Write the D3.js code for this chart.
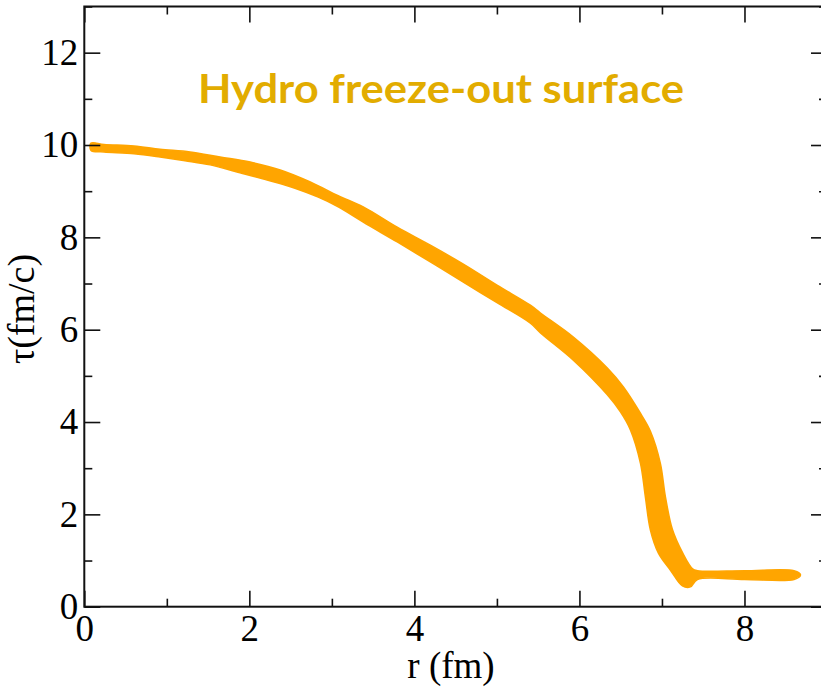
<!DOCTYPE html>
<html>
<head>
<meta charset="utf-8">
<script src="https://cdn.jsdelivr.net/npm/d3@7/dist/d3.min.js"></script>
<style>
  html, body { margin: 0; padding: 0; background: #fff; }
  svg { display: block; }
</style>
</head>
<body>
<svg id="chart" width="821" height="687"></svg>
<script>
// ---- data ----
const xMajorTicks = [0, 2, 4, 6, 8];
const xMinorTicks = [1, 3, 5, 7, 9];
const yMajorTicks = [0, 2, 4, 6, 8, 10, 12];
const yMinorTicks = [1, 3, 5, 7, 9, 11, 13];
const titleText = "Hydro freeze-out surface";
const xTitle = "r (fm)";
const yTitle = "τ(fm/c)";

// freeze-out band: outer (upper/right) edge, going outward in r
const bandOuter = [
  [0.081, 10.04], [0.239, 10.01], [0.603, 9.98], [0.918, 9.91], [1.282, 9.85],
  [1.646, 9.74], [2.010, 9.63], [2.374, 9.46], [2.738, 9.20], [3.077, 8.90],
  [3.380, 8.66], [3.792, 8.22], [4.193, 7.83], [4.593, 7.42], [5.006, 6.96],
  [5.406, 6.53], [5.528, 6.36], [5.926, 5.84], [6.338, 5.17], [6.533, 4.76],
  [6.739, 4.19], [6.860, 3.80], [6.980, 3.11], [7.042, 2.38], [7.127, 1.67],
  [7.249, 1.17], [7.371, 0.82], [7.430, 0.78], [8.000, 0.78], [8.600, 0.78],
  [8.679, 0.69], [8.600, 0.59], [8.000, 0.59], [7.430, 0.59], [7.345, 0.43],
  [7.248, 0.45]
];
// inner (lower/left) edge, going back toward r = 0
const bandInner = [
  [7.103, 0.79], [6.957, 1.16], [6.860, 1.66], [6.799, 2.38], [6.739, 3.11],
  [6.618, 3.83], [6.497, 4.22], [6.338, 4.59], [5.926, 5.34], [5.528, 5.93],
  [5.406, 6.14], [5.006, 6.58], [4.593, 7.03], [4.193, 7.47], [3.792, 7.90],
  [3.380, 8.33], [3.077, 8.66], [2.835, 8.87], [2.544, 9.07], [2.216, 9.24],
  [1.840, 9.42], [1.525, 9.57], [1.221, 9.66], [0.918, 9.74], [0.603, 9.81],
  [0.239, 9.85], [0.081, 9.88]
];

// ---- layout ----
const svg = d3.select("#chart");
const padL = 84.3, padR = 827, padT = 6.5, padB = 606.7;
const x = d3.scaleLinear().domain([0, 9]).range([padL, padR]);
const y = d3.scaleLinear().domain([0, 13]).range([padB, padT]);

svg.append("rect").attr("width", 821).attr("height", 687).attr("fill", "#fff");

// band
const band = bandOuter.concat(bandInner);
svg.append("path")
  .datum(band)
  .attr("fill", "#FFA500")
  .attr("stroke", "#FFA500")
  .attr("stroke-width", 1.5)
  .attr("stroke-linejoin", "round")
  .attr("d", d3.line().x(d => x(d[0])).y(d => y(d[1])).curve(d3.curveCatmullRomClosed.alpha(0.5)));

const tickFont = "'Liberation Serif', 'Times New Roman', serif";

function styleAxis(g) {
  g.select(".domain").remove();
  g.selectAll(".tick line").attr("stroke", "#111").attr("stroke-width", 1.6);
  g.selectAll("text").attr("fill", "#000").style("font-family", tickFont).style("font-size", "37px");
}

// bottom axis
svg.append("g").attr("transform", `translate(0,${padB})`)
  .call(d3.axisBottom(x).tickValues(xMajorTicks).tickSize(-16).tickPadding(8).tickFormat(d3.format("d")))
  .call(styleAxis);
svg.append("g").attr("transform", `translate(0,${padB})`)
  .call(d3.axisBottom(x).tickValues(xMinorTicks).tickSize(-8).tickFormat(""))
  .call(styleAxis);
// top axis
svg.append("g").attr("transform", `translate(0,${padT})`)
  .call(d3.axisTop(x).tickValues(xMajorTicks).tickSize(-16).tickFormat(""))
  .call(styleAxis);
svg.append("g").attr("transform", `translate(0,${padT})`)
  .call(d3.axisTop(x).tickValues(xMinorTicks).tickSize(-8).tickFormat(""))
  .call(styleAxis);
// left axis
svg.append("g").attr("transform", `translate(${padL},0)`)
  .call(d3.axisLeft(y).tickValues(yMajorTicks).tickSize(-16).tickPadding(6).tickFormat(d3.format("d")))
  .call(styleAxis);
svg.append("g").attr("transform", `translate(${padL},0)`)
  .call(d3.axisLeft(y).tickValues(yMinorTicks).tickSize(-8).tickFormat(""))
  .call(styleAxis);
// right axis
svg.append("g").attr("transform", `translate(${padR},0)`)
  .call(d3.axisRight(y).tickValues(yMajorTicks).tickSize(-16).tickFormat(""))
  .call(styleAxis);
svg.append("g").attr("transform", `translate(${padR},0)`)
  .call(d3.axisRight(y).tickValues(yMinorTicks).tickSize(-8).tickFormat(""))
  .call(styleAxis);

// frame
svg.append("rect")
  .attr("x", padL).attr("y", padT)
  .attr("width", padR - padL).attr("height", padB - padT)
  .attr("fill", "none").attr("stroke", "#111").attr("stroke-width", 2);

// axis titles
svg.append("text")
  .attr("x", 451).attr("y", 678)
  .attr("text-anchor", "middle")
  .style("font-family", tickFont).style("font-size", "37px")
  .text(xTitle);
svg.append("text")
  .attr("transform", "translate(34,309) rotate(-90)")
  .attr("text-anchor", "middle")
  .style("font-family", tickFont).style("font-size", "38px")
  .text(yTitle);

// title
svg.append("text")
  .attr("x", 198).attr("y", 103)
  .attr("textLength", 486).attr("lengthAdjust", "spacingAndGlyphs")
  .attr("fill", "#E2AC00")
  .style("font-family", "Lato, 'Open Sans', sans-serif")
  .style("font-weight", "700")
  .style("font-size", "41px")
  .text(titleText);
</script>
</body>
</html>
